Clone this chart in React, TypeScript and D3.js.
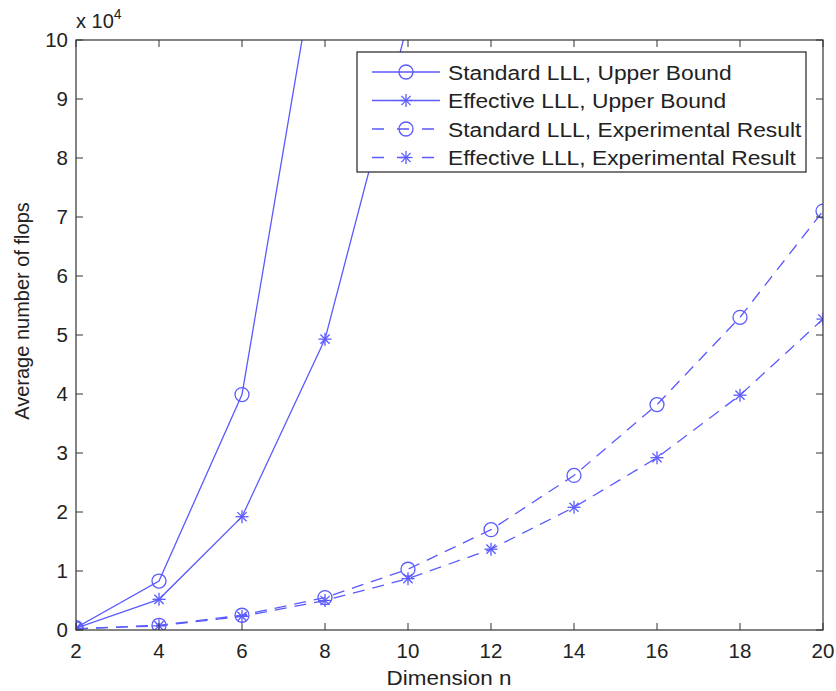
import React from "react";
import * as d3 from "d3";

const dims = [2, 4, 6, 8, 10, 12, 14, 16, 18, 20];
const stdUpper = [0.04, 0.83, 3.99, 12.3, 30, 60, 100, 150, 210, 280];
const effUpper = [0.03, 0.52, 1.92, 4.93, 10.3, 20, 35, 55, 80, 110];
const stdExp = [0.02, 0.08, 0.25, 0.55, 1.03, 1.7, 2.62, 3.82, 5.3, 7.1];
const effExp = [0.02, 0.07, 0.23, 0.5, 0.87, 1.37, 2.08, 2.92, 3.98, 5.27];
const xTicks = [2, 4, 6, 8, 10, 12, 14, 16, 18, 20];
const yTicks = [0, 1, 2, 3, 4, 5, 6, 7, 8, 9, 10];
const legendLabels = [
  "Standard LLL, Upper Bound",
  "Effective LLL, Upper Bound",
  "Standard LLL, Experimental Result",
  "Effective LLL, Experimental Result",
];

const COLOR = "#5a5aff";
const FONT = "'Liberation Sans', Arial, Helvetica, sans-serif";

export default function App() {
  const W = 836, H = 691;
  const left = 76, right = 823, top = 40, bottom = 630;
  const x = d3.scaleLinear().domain([2, 20]).range([left, right]);
  const y = d3.scaleLinear().domain([0, 10]).range([bottom, top]);
  const line = d3.line<number>().x((_, i) => x(dims[i])).y((d) => y(d));

  const series = [
    { data: stdUpper, dash: null, marker: "o" },
    { data: effUpper, dash: null, marker: "*" },
    { data: stdExp, dash: "12,8", marker: "o" },
    { data: effExp, dash: "12,8", marker: "*" },
  ];

  const marker = (m: string, cx: number, cy: number, key: any) => {
    if (m === "o") {
      return <circle key={key} cx={cx} cy={cy} r={7} fill="none" stroke={COLOR} strokeWidth={1.3} />;
    }
    const r = 6.5;
    const segs = [0, 45, 90, 135].map((a) => {
      const rad = (a * Math.PI) / 180;
      return (
        <line key={a} x1={cx - r * Math.cos(rad)} y1={cy - r * Math.sin(rad)} x2={cx + r * Math.cos(rad)} y2={cy + r * Math.sin(rad)} stroke={COLOR} strokeWidth={1.3} />
      );
    });
    return <g key={key}>{segs}</g>;
  };

  const legX = 357, legY = 52, legW = 449, legH = 120;
  return (
    <svg width={W} height={H} style={{ position: "absolute", left: 0, top: 0, background: "#fff" }}>
      <defs>
        <clipPath id="plot">
          <rect x={left} y={top} width={right - left} height={bottom - top} />
        </clipPath>
      </defs>
      <rect x={0} y={0} width={W} height={H} fill="#fff" />
      <g clipPath="url(#plot)">
        {series.map((s, si) => (
          <g key={si}>
            <path d={line(s.data) || ""} fill="none" stroke={COLOR} strokeWidth={1.3} strokeDasharray={s.dash || undefined} />
            {s.data.map((v, i) => marker(s.marker, x(dims[i]), y(v), i))}
          </g>
        ))}
      </g>
      <rect x={left} y={top} width={right - left} height={bottom - top} fill="none" stroke="#333" strokeWidth={1.2} />
      {xTicks.map((t) => (
        <g key={"x" + t}>
          <line x1={x(t)} x2={x(t)} y1={bottom} y2={bottom - 7} stroke="#333" />
          <line x1={x(t)} x2={x(t)} y1={top} y2={top + 7} stroke="#333" />
          <text x={x(t)} y={658} textAnchor="middle" fontFamily={FONT} fontSize={20.5} fill="#222">{t}</text>
        </g>
      ))}
      {yTicks.map((t) => (
        <g key={"y" + t}>
          <line x1={left} x2={left + 7} y1={y(t)} y2={y(t)} stroke="#333" />
          <line x1={right} x2={right - 7} y1={y(t)} y2={y(t)} stroke="#333" />
          <text x={68} y={y(t) + 7} textAnchor="end" fontFamily={FONT} fontSize={20.5} fill="#222">{t}</text>
        </g>
      ))}
      <text x={76} y={28} fontFamily={FONT} fontSize={20} fill="#222">
        x 10<tspan dy={-9} fontSize={14}>4</tspan>
      </text>
      <text transform="translate(449,685) scale(1.07,1)" textAnchor="middle" fontFamily={FONT} fontSize={21} fill="#222">Dimension n</text>
      <text transform={`translate(29,311) rotate(-90)`} textAnchor="middle" fontFamily={FONT} fontSize={20} fill="#222">Average number of flops</text>
      <rect x={legX} y={legY} width={legW} height={legH} fill="#fff" stroke="#222" strokeWidth={1.2} />
      {series.map((s, i) => {
        const cy = legY + 20 + i * 28.5;
        return (
          <g key={"l" + i}>
            <line x1={372} x2={440} y1={cy} y2={cy} stroke={COLOR} strokeWidth={1.3} strokeDasharray={s.dash ? "12,13" : undefined} />
            {marker(s.marker, 406, cy, "m")}
            <text transform={`translate(448,${cy + 7.5}) scale(1.085,1)`} fontFamily={FONT} fontSize={21} fill="#222">{legendLabels[i]}</text>
          </g>
        );
      })}
    </svg>
  );
}
